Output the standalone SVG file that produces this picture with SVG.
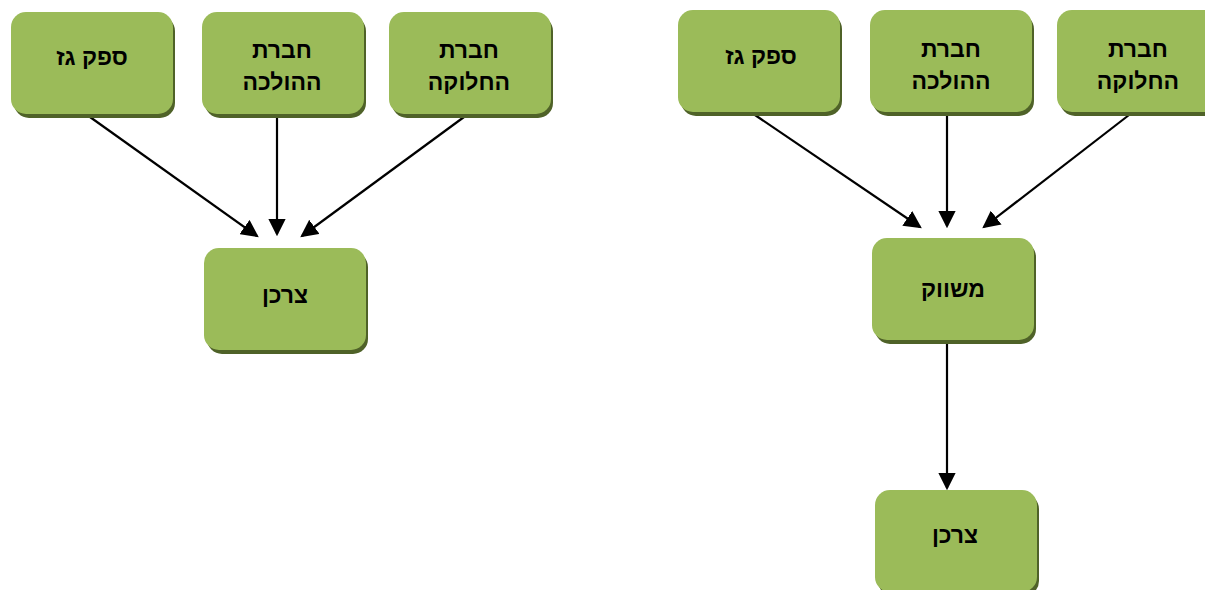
<svg xmlns="http://www.w3.org/2000/svg" width="1205" height="590" viewBox="0 0 1205 590">
<style>
.sh{fill:#4f6228}
.bx{fill:#9bbb59}
.t{font-family:"Liberation Sans",Arial,sans-serif;font-weight:bold;font-size:23px;fill:#000;text-anchor:middle}
.c{stroke:#000;stroke-width:2.2;fill:none;marker-end:url(#ah)}
</style>
<defs>
<marker id="ah" markerWidth="8" markerHeight="8" refX="7" refY="4" orient="auto" markerUnits="strokeWidth">
<path d="M0,0 L8,4 L0,8 Z" fill="#000"/>
</marker>
</defs>
<rect width="1205" height="590" fill="#fff"/>
<g id="connectors">
<line class="c" x1="90" y1="117" x2="257" y2="236"/>
<line class="c" x1="277" y1="117" x2="277" y2="234"/>
<line class="c" x1="464" y1="117" x2="302" y2="236"/>
<line class="c" x1="755" y1="115" x2="920" y2="227"/>
<line class="c" x1="947" y1="115" x2="947" y2="226"/>
<line class="c" x1="1129" y1="115" x2="984" y2="227"/>
<line class="c" x1="947" y1="344" x2="947" y2="488"/>
</g>
<g id="n-left-gas">
<rect class="sh" x="14" y="16" width="161" height="102" rx="15"/>
<rect class="bx" x="11" y="12" width="162" height="102" rx="15"/>
<text class="t" x="92" y="65">ספק גז</text>
</g>
<g id="n-left-trans">
<rect class="sh" x="205" y="16" width="161" height="102" rx="15"/>
<rect class="bx" x="202" y="12" width="162" height="102" rx="15"/>
<text class="t" x="282" y="58">חברת</text>
<text class="t" x="282" y="90">ההולכה</text>
</g>
<g id="n-left-dist">
<rect class="sh" x="392" y="16" width="161" height="102" rx="15"/>
<rect class="bx" x="389" y="12" width="162" height="102" rx="15"/>
<text class="t" x="469" y="58">חברת</text>
<text class="t" x="469" y="90">החלוקה</text>
</g>
<g id="n-left-consumer">
<rect class="sh" x="207" y="252" width="161" height="102" rx="15"/>
<rect class="bx" x="204" y="248" width="162" height="102" rx="15"/>
<text class="t" x="285" y="303">צרכן</text>
</g>
<g id="n-right-gas">
<rect class="sh" x="681" y="14" width="161" height="102" rx="15"/>
<rect class="bx" x="678" y="10" width="162" height="102" rx="15"/>
<text class="t" x="761" y="64">ספק גז</text>
</g>
<g id="n-right-trans">
<rect class="sh" x="873" y="14" width="161" height="102" rx="15"/>
<rect class="bx" x="870" y="10" width="162" height="102" rx="15"/>
<text class="t" x="951" y="57">חברת</text>
<text class="t" x="951" y="89">ההולכה</text>
</g>
<g id="n-right-dist">
<rect class="sh" x="1060" y="14" width="161" height="102" rx="15"/>
<rect class="bx" x="1057" y="10" width="162" height="102" rx="15"/>
<text class="t" x="1138" y="57">חברת</text>
<text class="t" x="1138" y="89">החלוקה</text>
</g>
<g id="n-right-marketer">
<rect class="sh" x="875" y="242" width="161" height="102" rx="15"/>
<rect class="bx" x="872" y="238" width="162" height="102" rx="15"/>
<text class="t" x="953" y="297">משווק</text>
</g>
<g id="n-right-consumer">
<rect class="sh" x="878" y="494" width="161" height="102" rx="15"/>
<rect class="bx" x="875" y="490" width="162" height="102" rx="15"/>
<text class="t" x="955" y="543">צרכן</text>
</g>
</svg>
